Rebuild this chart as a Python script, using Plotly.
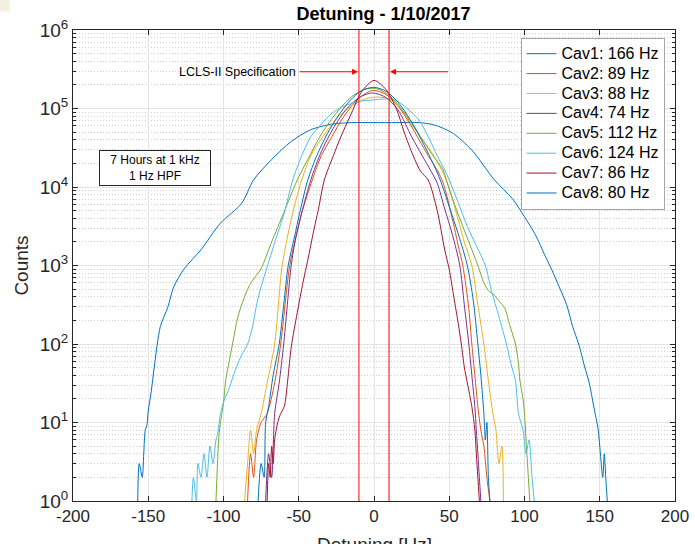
import plotly.graph_objects as go

# ---------------- data ----------------
names = ["Cav1: 166 Hz", "Cav2: 89 Hz", "Cav3: 88 Hz", "Cav4: 74 Hz",
         "Cav5: 112 Hz", "Cav6: 124 Hz", "Cav7: 86 Hz", "Cav8: 80 Hz"]
colors = ["#0072BD", "#D95319", "#EDB120", "#7E2F8E",
          "#77AC30", "#4DBEEE", "#A2142F", "#0072BD"]

cav1_f = [-157, -156, -154, -153, -152, -151, -150, -148, -146, -142, -137, -133, -126, -115, -102, -88,
          -80, -68, -55, -42, -28, -15, 0, 15, 30, 40, 52, 65, 80, 92, 100, 107, 114, 118, 123, 128, 132,
          136, 140, 143, 146, 149, 150, 152, 153, 154, 155]
cav1_c = [1, 3, 2, 4, 8, 9, 14, 25, 51, 166, 295, 537, 912, 1585, 3467, 6166, 12300, 22400, 38000, 53700,
          63100, 66100, 66100, 66100, 66100, 61700, 49000, 29500, 12300, 7080, 4170, 2510, 1290, 891, 537,
          316, 166, 100, 51, 32, 16, 8, 5, 2, 4, 2, 1]

cav2_f = [-84, -82, -80, -78, -75, -71, -66, -62, -56, -52, -48, -41, -35, -28, -20, -10, -1, 8, 16, 24,
          30, 36, 42, 46, 52, 56, 59, 63, 65, 67, 69, 71, 73, 75, 77]
cav2_c = [1, 4, 2, 6, 10, 13, 32, 100, 1000, 2240, 4680, 12300, 25100, 43700, 79400, 135000, 170000,
          151000, 107000, 63100, 39800, 25100, 16400, 11200, 3980, 1780, 1000, 282, 100, 40, 16, 8, 5, 2, 1]

cav3_f = [-86, -84, -82, -80, -78, -75, -71, -66, -61, -54, -48, -42, -34, -25, -15, -6, 2, 10, 18, 25,
          30, 38, 45, 48, 54, 60, 65, 69, 73, 76, 79, 81, 83, 85, 86]
cav3_c = [1, 3, 8, 4, 8, 13, 32, 100, 1000, 4680, 12300, 25100, 43700, 74100, 107000, 132000, 140000,
          132000, 100000, 66100, 45700, 28200, 16400, 12300, 5250, 2000, 1000, 316, 100, 34, 13, 8, 3, 5, 1]

cav4_f = [-72, -70, -68, -66, -63, -60, -55, -52, -48, -42, -35, -27, -18, -9, -1, 8, 16, 25, 32, 38,
          42, 47, 52, 57, 60, 63, 65, 67, 68, 69, 70, 71]
cav4_c = [1, 4, 2, 13, 32, 100, 1000, 2240, 4680, 12300, 28200, 56200, 100000, 141000, 158000, 138000,
          95500, 43700, 25100, 15800, 11200, 5250, 2510, 1000, 316, 100, 40, 16, 8, 4, 2, 1]

cav5_f = [-105, -104, -103, -102, -100, -98.5, -96, -94, -91, -88.5, -85, -82, -78, -75, -68, -60, -51,
          -44, -36, -26, -15, -5, 2, 10, 18, 25, 31, 38, 46, 48, 55, 62, 69, 73, 76, 80, 83, 87, 90, 94,
          96, 97, 99, 100, 101, 102, 103.5]
cav5_c = [1, 3, 7, 10, 18, 35, 63, 100, 200, 295, 447, 589, 759, 912, 2000, 4680, 12300, 22400, 43700,
          83200, 141000, 178000, 178000, 148000, 100000, 63100, 43700, 26900, 16400, 12300, 5010, 2240,
          1000, 603, 479, 417, 355, 282, 178, 100, 56, 34, 20, 13, 6, 3, 1]

cav6_f = [-121, -120, -118, -117, -115, -113, -111, -109, -107, -105, -104, -102, -99.6, -96, -93, -88.5,
          -84, -80.7, -78, -75, -70.7, -65, -59.6, -54, -48, -42, -35, -28, -20, -10, 0, 7, 15, 22, 30,
          36, 42, 47, 50, 56, 62, 68, 74, 78, 83, 88, 91, 94, 96, 99, 101, 103, 105, 106.5]
cav6_c = [1, 2, 1, 3, 2, 4, 2, 5, 3, 6, 7, 13, 19, 28, 42, 69, 100, 166, 316, 537, 1000, 2240, 4680,
          12300, 25100, 43700, 63100, 87100, 107000, 123000, 129000, 132000, 126000, 100000, 70800,
          43700, 25100, 16400, 12300, 6310, 3160, 1780, 1000, 479, 224, 100, 56, 34, 13, 8, 4, 6, 2, 1]

cav7_f = [-71, -70, -69, -68, -67, -66, -64, -62, -59.6, -57.3, -55, -51, -47, -44, -40, -37, -33, -27,
          -22, -15, -8, 0, 8, 15, 20, 26, 31, 36, 42, 47, 50, 53, 56, 58, 60, 62, 65, 67, 68, 69, 70]
cav7_c = [1, 3, 2, 5, 3, 6, 10, 13, 16, 35, 91, 251, 631, 1170, 2820, 5130, 12300, 25100, 43700, 87100,
          166000, 228000, 174000, 97700, 50100, 25100, 15800, 12300, 5010, 1580, 891, 398, 182, 100, 51,
          32, 16, 8, 4, 2, 1]

cav8_f = [-77, -75, -73, -72, -70, -67, -63, -60, -57, -53, -49, -44, -38, -31, -24, -16, -8, 0, 8, 16,
          24, 31, 38, 44, 50, 56, 62, 66, 69, 71, 73, 74, 75, 76, 77]
cav8_c = [1, 3, 2, 10, 16, 40, 100, 316, 1000, 2240, 5010, 12300, 25100, 47900, 79400, 126000, 170000,
          186000, 166000, 120000, 72400, 41700, 22400, 12300, 5620, 2510, 1000, 355, 100, 40, 13, 6, 10, 2, 1]

freqs = [cav1_f, cav2_f, cav3_f, cav4_f, cav5_f, cav6_f, cav7_f, cav8_f]
counts = [cav1_c, cav2_c, cav3_c, cav4_c, cav5_c, cav6_c, cav7_c, cav8_c]

spec_limits = [-10, 10]
x_ticks = [-200, -150, -100, -50, 0, 50, 100, 150, 200]
y_ticks = [1, 10, 100, 1000, 10000, 100000, 1000000]
y_ticktext = ["10<sup>0</sup>", "10<sup>1</sup>", "10<sup>2</sup>", "10<sup>3</sup>",
              "10<sup>4</sup>", "10<sup>5</sup>", "10<sup>6</sup>"]

# ---------------- figure ----------------
FONT = "Liberation Sans, Arial, Helvetica, sans-serif"
fig = go.Figure()

for nm, col, fx, cy in zip(names, colors, freqs, counts):
    fig.add_trace(go.Scatter(x=fx, y=cy, mode="lines",
                             name='<span style="font-size:16px">' + nm + '</span>',
                             line=dict(color=col, width=1, shape="spline", smoothing=0.8)))

for lim in spec_limits:
    fig.add_trace(go.Scatter(x=[lim, lim], y=[1, 1000000], mode="lines",
                             line=dict(color="#FF0000", width=1), showlegend=False,
                             hoverinfo="skip"))

axis_col = "#262626"
fig.update_layout(
    width=695, height=544,
    margin=dict(l=73, r=20, t=30, b=43),
    paper_bgcolor="white", plot_bgcolor="white",
    font=dict(family=FONT, color=axis_col),
    title=dict(text="<b>Detuning - 1/10/2017</b>", x=0.5518, xanchor="center",
               y=0.974, yanchor="middle", font=dict(size=18, color="#000000")),
    showlegend=True,
    legend=dict(x=0.9826, y=0.9836, xanchor="right", yanchor="top",
                bgcolor="white", bordercolor="#A6A6A6", borderwidth=1,
                font=dict(size=13, color="#000000"), tracegroupgap=0,
                itemwidth=30),
)

fig.update_xaxes(
    range=[-200, 200], tickvals=x_ticks, ticktext=[str(v) for v in x_ticks],
    ticks="inside", ticklen=5, tickcolor=axis_col, showline=True, linecolor=axis_col,
    linewidth=1, mirror="ticks", showgrid=True, gridcolor="#E3E3E3", zeroline=False,
    tickfont=dict(size=17, color=axis_col), automargin=False,
)

fig.update_yaxes(
    type="log", range=[0, 6], tickvals=y_ticks, ticktext=y_ticktext,
    ticks="inside", ticklen=5, tickcolor=axis_col, showline=True, linecolor=axis_col,
    linewidth=1, mirror="ticks", showgrid=True, gridcolor="#E3E3E3", zeroline=False,
    tickfont=dict(size=19, color=axis_col), automargin=False,
    minor=dict(ticks="inside", ticklen=3, tickcolor=axis_col, dtick="D1",
               showgrid=True, griddash="1px,2px", gridcolor="#D0D0D0", gridwidth=1),
    title=dict(text="Counts", font=dict(size=19, color=axis_col), standoff=6),
)

# x-axis title (partly below the visible window, as in the reference)
fig.add_annotation(x=0.5, y=-0.0655, xref="paper", yref="paper", text="Detuning [Hz]",
                   showarrow=False, xanchor="center", yanchor="top",
                   font=dict(size=19, color=axis_col))

# annotation box
fig.add_annotation(x=-145.8, y=4.24, xref="x", yref="y",
                   text="7 Hours at 1 kHz<br>1 Hz HPF", showarrow=False,
                   font=dict(size=12, color="#000000"), bgcolor="white",
                   bordercolor=axis_col, borderwidth=1, borderpad=2, width=106,
                   align="center")

# specification label and arrows
fig.add_annotation(x=-50.5, y=5.468, xref="x", yref="y", text="LCLS-II Specification",
                   showarrow=False, xanchor="right", font=dict(size=12.5, color="#000000"))
fig.add_annotation(x=-10.6, y=5.468, ax=-50.5, ay=5.468, xref="x", yref="y",
                   axref="x", ayref="y", text="", showarrow=True, arrowhead=2,
                   arrowsize=1.2, arrowwidth=1, arrowcolor="#FF0000")
fig.add_annotation(x=10.6, y=5.468, ax=50.2, ay=5.468, xref="x", yref="y",
                   axref="x", ayref="y", text="", showarrow=True, arrowhead=2,
                   arrowsize=1.2, arrowwidth=1, arrowcolor="#FF0000")

# small beige artefact at the top-left corner of the picture
fig.add_shape(type="rect", xref="paper", yref="paper", x0=-0.1211, x1=-0.1045,
              y0=1.0390, y1=1.0645, line=dict(width=0), fillcolor="#F6F0E3", layer="below")

fig.write_html("out.html", config={"displayModeBar": False},
               post_script="document.body.style.margin='0px';document.body.style.overflow='hidden';")
